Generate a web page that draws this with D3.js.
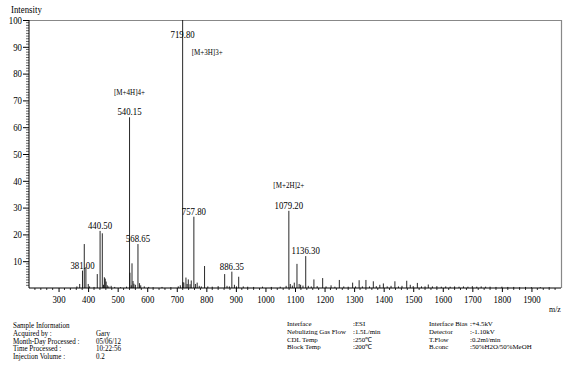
<!DOCTYPE html>
<html><head><meta charset="utf-8">
<script src="https://cdn.jsdelivr.net/npm/d3@7"></script>
<style>body{margin:0;background:#fff}svg{display:block;font-family:"Liberation Serif","Times New Roman",serif}</style>
</head><body>
<script>
const peakMz = [362,371.5,381.0,387.0,392.5,400.5,405,420,431.0,440.5,448.0,452,455,458,461,465,470,478,490,510,530,540.15,541.5,546,548.5,552,555,560,568.65,574,578,590,605,620,650,680,705,712,719.8,721,724,731,735,739,745,749,757.8,763,769,776,783,794,805,820,840,862,870,878,886.35,895,902,909.5,925,940,960,990,1020,1050,1070,1079.2,1084,1091,1097.6,1106.7,1114,1119,1127,1136.3,1145,1155,1164,1175,1193.6,1205,1222,1235,1250,1265,1280,1295,1305,1317,1328,1340,1352,1365,1375,1387,1399,1412,1425,1438,1450,1462,1478,1490,1500,1514,1528,1540,1551,1565,1580,1595,1610,1625,1640,1655,1670,1685,1700,1715,1730,1745,1760,1780,1800,1820,1840,1860,1880,1900,1930,1960];
const peakIntensity = [0.6,1.5,6.5,16.4,7.8,1.5,0.6,0.4,5.2,21.3,20.4,1.2,4.0,3.5,2.4,1.0,0.6,0.8,0.4,0.3,0.5,63.7,5.7,1.0,9.2,2.6,1.6,1.2,16.4,1.8,1.0,0.6,0.4,0.3,0.4,0.3,0.6,1.0,100,2.2,2.0,3.9,1.5,3.2,1.4,2.8,26.6,1.5,2.0,0.8,0.6,8.2,0.6,0.5,0.7,5.2,0.8,0.6,6.1,1.2,0.6,4.2,0.6,0.5,0.4,0.5,0.4,0.5,0.8,28.8,1.5,0.9,2.0,9.0,1.5,1.2,0.9,11.9,0.8,0.6,3.2,0.7,3.7,0.6,1.0,0.5,3.0,0.6,0.5,2.0,0.6,2.9,0.6,3.0,0.6,2.5,0.7,1.2,1.7,0.6,0.8,2.5,0.6,0.8,2.7,1.2,0.7,1.9,0.6,0.6,1.3,0.6,0.7,0.5,0.6,0.5,0.6,0.5,0.6,0.5,0.7,0.5,0.6,0.5,0.5,0.4,0.5,0.4,0.4,0.3,0.4,0.3,0.3,0.3];

const labelMz = [381.00,440.50,540.15,568.65,719.80,757.80,886.35,1079.20,1136.30];
const labelIntensity = [6.5,21.3,63.7,16.4,100,26.6,6.1,28.8,11.9];
const ionNames = ["[M+4H]4+","[M+3H]3+","[M+2H]2+"];
const ionMz = [540.15,719.80,1079.20];
const ionLevel = [72,87,37.3];

const xTicks = [300,400,500,600,700,800,900,1000,1100,1200,1300,1400,1500,1600,1700,1800,1900];
const yTicks = [10,20,30,40,50,60,70,80,90,100];

const infoLeftKeys = ["Sample Information","Acquired by :","Month-Day Processed :","Time Processed :","Injection Volume :"];
const infoLeftVals = ["","Gary","05/06/12","10:22:56"," 0.2"];
const infoMidKeys = ["Interface","Nebulizing Gas Flow","CDL Temp","Block Temp"];
const infoMidVals = [":ESI",":1.5L/min",":250\u2103",":200\u2103"];
const infoRightKeys = ["Interface Bias","Detector","T.Flow","B.conc"];
const infoRightVals = [":+4.5kV",":-1.10kV",":0.2ml/min",":50%H2O/50%MeOH"];

const W=577,H=374;
const svg=d3.select("body").append("svg").attr("width",W).attr("height",H);
const x=d3.scaleLinear().domain([200,2000]).range([29,561]);
const y=d3.scaleLinear().domain([0,100]).range([288,20]);

svg.append("line").attr("x1",29).attr("x2",561).attr("y1",20.5).attr("y2",20.5).attr("stroke","#888").attr("stroke-width",1.2);
svg.append("line").attr("x1",561.5).attr("x2",561.5).attr("y1",20).attr("y2",288).attr("stroke","#888").attr("stroke-width",1.2);

svg.append("g").selectAll("line").data(peakMz).join("line")
  .attr("x1",d=>x(d)).attr("x2",d=>x(d))
  .attr("y1",y(0)).attr("y2",(d,i)=>y(peakIntensity[i]))
  .attr("stroke","#111").attr("stroke-width",0.9);

const xMinor=d3.range(220,2000,20).filter(v=>v%100!==0);
const gx=svg.append("g").attr("transform","translate(0,288)");
gx.append("line").attr("x1",29).attr("x2",561).attr("stroke","#000");
gx.selectAll(".mn").data(xMinor).join("line").attr("x1",d=>x(d)).attr("x2",d=>x(d)).attr("y1",0).attr("y2",2).attr("stroke","#000").attr("stroke-width",0.8);
const gxx=gx.append("g").call(d3.axisBottom(x).tickValues(xTicks).tickSize(4).tickFormat(d3.format("d")));
gxx.select(".domain").remove();
gxx.selectAll("text").attr("font-size",10).attr("font-family","Liberation Serif").attr("dy","0.75em").attr("fill","#000");

const gy=svg.append("g").attr("transform","translate(29,0)");
gy.append("line").attr("y1",20).attr("y2",288).attr("stroke","#000");
gy.selectAll(".mn").data(d3.range(1,100).filter(v=>v%10!==0)).join("line").attr("x1",-3).attr("x2",0).attr("y1",d=>y(d)).attr("y2",d=>y(d)).attr("stroke","#000").attr("stroke-width",0.6);
const gyy=gy.append("g").call(d3.axisLeft(y).tickValues(yTicks).tickSize(6).tickPadding(1).tickFormat(d3.format("d")));
gyy.select(".domain").remove();
gyy.selectAll("text").attr("font-size",10).attr("font-family","Liberation Serif").attr("fill","#000");

svg.append("text").attr("x",11).attr("y",13).attr("font-size",10).text("Intensity");
svg.append("text").attr("x",549).attr("y",312).attr("font-size",9).text("m/z");

svg.append("g").selectAll("text").data(labelMz).join("text")
  .attr("x",d=>x(d)).attr("y",(d,i)=>y(labelIntensity[i])-2+(labelIntensity[i]>=100?19.5:0))
  .attr("text-anchor","middle").attr("font-size",10).text(d=>d.toFixed(2));

svg.append("g").selectAll("text").data(ionNames).join("text")
  .attr("x",(d,i)=>i===1?x(ionMz[i])+9:x(ionMz[i]))
  .attr("y",(d,i)=>y(ionLevel[i]))
  .attr("text-anchor",(d,i)=>i===1?"start":"middle")
  .attr("font-size",8).text(d=>d);

// condense glyphs horizontally, as in the reference (chart texts and left info block)
svg.selectAll("text").each(function(){
  const L=this.getComputedTextLength();
  if(L>0) d3.select(this).attr("textLength",L*0.88).attr("lengthAdjust","spacingAndGlyphs");
});

function row(g,y0,x1,k,x2,v){
  g.append("text").attr("x",x1).attr("y",y0).text(k);
  if(v) g.append("text").attr("x",x2).attr("y",y0).text(v);
}
const info=svg.append("g").attr("font-size",8);
infoLeftKeys.forEach((k,i)=>row(info,328+i*7.8,13,k,96,infoLeftVals[i]));
info.selectAll("text").each(function(){
  const L=this.getComputedTextLength();
  d3.select(this).attr("textLength",L*0.88).attr("lengthAdjust","spacingAndGlyphs");
});
const info2=svg.append("g").attr("font-size",6.9);
infoMidKeys.forEach((k,i)=>row(info2,326+i*7.8,287,k,353,infoMidVals[i]));
infoRightKeys.forEach((k,i)=>row(info2,326+i*7.8,429,k,470,infoRightVals[i]));
</script>
</body></html>
